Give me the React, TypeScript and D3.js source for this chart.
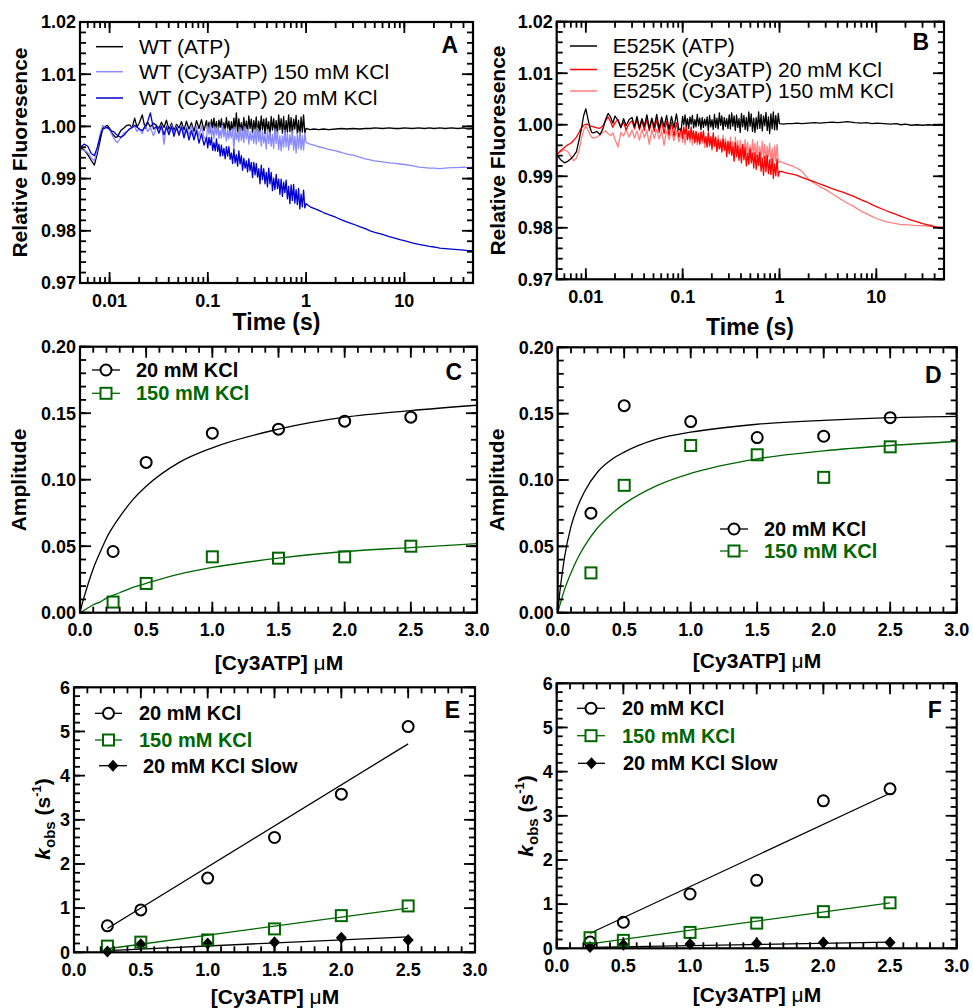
import React, { useEffect, useRef } from 'react';
import * as d3 from 'd3';

const FONT = "'Liberation Sans', Arial, Helvetica, sans-serif";
const GREEN = '#006600';

// time base of the stopped-flow traces (s)
const tEarly = [0.005, 0.0055, 0.006, 0.0065, 0.007, 0.0075, 0.008, 0.0085, 0.009, 0.0095,
  0.010, 0.0105, 0.011, 0.0115, 0.012, 0.013, 0.014, 0.015, 0.016, 0.017,
  0.018, 0.019, 0.020, 0.0215, 0.023, 0.0245, 0.026, 0.028];
const tNoisy = [0.030, 0.0318, 0.0337, 0.0358, 0.0379, 0.0402, 0.0427, 0.0452, 0.0480, 0.0509,
  0.0539, 0.0572, 0.0606, 0.0643, 0.0682, 0.0723, 0.0767, 0.0813, 0.0862, 0.0914,
  0.0969, 0.0998, 0.1027, 0.1058, 0.1089, 0.1121, 0.1154, 0.1189, 0.1224, 0.1260,
  0.1297, 0.1336, 0.1375, 0.1416, 0.1458, 0.1501, 0.1545, 0.1591, 0.1638, 0.1687,
  0.1737, 0.1788, 0.1841, 0.1896, 0.1952, 0.2009, 0.2069, 0.2130, 0.2193, 0.2258,
  0.2325, 0.2394, 0.2465, 0.2538, 0.2613, 0.2690, 0.2770, 0.2852, 0.2936, 0.3023,
  0.3112, 0.3205, 0.3299, 0.3397, 0.3498, 0.3601, 0.3708, 0.3817, 0.3930, 0.4047,
  0.4167, 0.4290, 0.4417, 0.4548, 0.4682, 0.4821, 0.4964, 0.5110, 0.5262, 0.5417,
  0.5578, 0.5743, 0.5913, 0.6088, 0.6268, 0.6454, 0.6645, 0.6841, 0.7044, 0.7252,
  0.7467, 0.7688, 0.7915, 0.8150, 0.8391, 0.8639, 0.8895, 0.9158, 0.9429, 0.9709,
  1.0];
const tSlow = [1.1, 1.2, 1.35, 1.5, 1.7, 2.0, 2.3, 2.6, 3.0, 3.5,
  4, 4.5, 5, 6, 7, 8, 9, 10, 12, 14,
  16, 18, 20, 23, 26, 30, 35, 40, 45, 50];

// panel A: WT (early | noisy | slow)
const wtAtp = [
  .9960, .9955, .9946, .9935, .9926, .9948, .9972, .9996, 1.0000, 1.0002,
  .9996, .9988, .9983, .9979, .9980, .9992, .9997, 1.0002, 1.0003, .9998,
  1.0016, .9999, 1.0006, 1.0022, .9996, 1.0008, .9999, 1.0006,
  1.0002, .9996, 1.0008, .9998, 1.0012, .9994, 1.0006, .9992, 1.0004, .9997,
  1.0009, .9993, 1.0010, .9995, 1.0007, .9990, 1.0011, .9996, 1.0013, .9992,
  1.0011, .9992, 1.0008, .9989, 1.0013, .9997, 1.0016, .9994, 1.0009, .9990,
  1.0012, .9998, 1.0015, .9991, 1.0007, .9993, 1.0017, .9995, 1.0010, .9988,
  1.0009, .9990, 1.0016, .9995, 1.0026, .9985, 1.0015, .9993, 1.0007, .9988,
  1.0017, .9992, 1.0010, .9989, 1.0020, .9996, 1.0014, .9987, 1.0011, .9994,
  1.0018, .9984, 1.0010, .9989, 1.0020, .9994, 1.0014, .9986, 1.0016, .9992,
  1.0009, .9982, 1.0019, .9993, 1.0015, .9988, 1.0011, .9985, 1.0022, .9994,
  1.0015, .9987, 1.0019, .9982, 1.0011, .9989, 1.0022, .9990, 1.0017, .9985,
  1.0014, .9995, 1.0021, .9986, 1.0012, .9980, 1.0018, .9989, 1.0022, .9987,
  .9996,
  .9994, .9995, .9994, .9995, .9994, .9995, .9996, .9995, .9996, .9995,
  .9996, .9996, .9997, .9996, .9997, .9996, .9996, .9997, .9996, .9997,
  .9996, .9997, .9996, .9997, .9996, .9997, .9996, .9997, .9995, .9996];
const wtCy3_150 = [
  .9956, .9954, .9950, .9940, .9934, .9955, .9985, 1.0002, .9998, .9996,
  .9993, .9985, .9978, .9972, .9969, .9978, .9987, .9990, .9996, .9999,
  1.0000, .9990, .9996, .9986, 1.0002, .9990, .9998, .9982,
  .9999, .9990, 1.0003, .9966, 1.0002, .9988, 1.0003, .9986, 1.0001, .9986,
  1.0003, .9983, 1.0001, .9983, 1.0002, .9980, 1.0000, .9981, 1.0001, .9978,
  .9977, 1.0001, .9985, 1.0004, .9981, .9996, .9977, .9999, .9984, 1.0001,
  .9977, .9993, .9978, 1.0002, .9980, .9995, .9972, .9995, .9976, .9992,
  .9978, .9995, .9955, .9998, .9975, .9989, .9970, .9998, .9973, .9991,
  .9969, 1.0000, .9976, .9994, .9966, .9990, .9973, .9987, .9968, .9994,
  .9966, .9997, .9971, .9991, .9962, .9992, .9968, .9984, .9957, .9994,
  .9967, .9989, .9962, .9985, .9958, .9995, .9967, .9990, .9956, .9982,
  .9953, .9982, .9960, .9993, .9961, .9987, .9955, .9984, .9965, .9991,
  .9955, .9981, .9949, .9987, .9958, .9990, .9955, .9983, .9955, .9987,
  .9969,
  .9966, .9964, .9961, .9959, .9956, .9953, .9950, .9947, .9945, .9941,
  .9938, .9936, .9934, .9932, .9930, .9929, .9928, .9927, .9925, .9922,
  .9921, .9920, .9920, .9919, .9920, .9921, .9921, .9922, .9921, .9922];
const wtCy3_20 = [
  .9959, .9966, .9962, .9948, .9944, .9960, .9980, .9994, .9997, .9998,
  .9995, .9991, .9990, .9986, .9983, .9979, .9983, .9990, .9995, .9998,
  1.0002, .9999, .9995, .9992, 1.0000, 1.0010, 1.0026, .9995,
  1.0000, .9987, 1.0001, .9984, .9999, .9984, 1.0000, .9981, .9998, .9983,
  .9999, .9978, .9995, .9974, .9992, .9974, .9992, .9968, .9986, .9964,
  .9979, .9959, .9979, .9964, .9979, .9954, .9969, .9953, .9976, .9952,
  .9966, .9943, .9964, .9944, .9958, .9938, .9961, .9943, .9961, .9937,
  .9949, .9929, .9956, .9930, .9946, .9924, .9953, .9928, .9944, .9916,
  .9939, .9920, .9934, .9913, .9938, .9915, .9931, .9902, .9931, .9907,
  .9929, .9903, .9919, .9890, .9926, .9898, .9919, .9890, .9912, .9884,
  .9920, .9890, .9912, .9877, .9901, .9879, .9908, .9881, .9899, .9870,
  .9899, .9866, .9893, .9873, .9897, .9861, .9885, .9852, .9888, .9858,
  .9889, .9853, .9879, .9850, .9881, .9842, .9870, .9846, .9878, .9844,
  .9852,
  .9846, .9843, .9839, .9835, .9831, .9826, .9821, .9817, .9813, .9808,
  .9804, .9800, .9797, .9793, .9789, .9786, .9783, .9781, .9777, .9774,
  .9772, .9770, .9769, .9767, .9766, .9765, .9764, .9763, .9762, .9762];

// panel B: E525K (early | noisy | slow)
const e525kAtp = [
  .9942, .9932, .9926, .9929, .9934, .9940, .9948, .9970, .9992, 1.0018,
  1.0031, 1.0012, .9995, .9985, .9984, .9987, .9981, .9992, 1.0010, 1.0022,
  1.0015, 1.0003, 1.0017, 1.0008, .9994, 1.0012, .9998, 1.0010,
  1.0014, .9996, 1.0016, .9994, 1.0012, .9997, 1.0019, .9993, 1.0013, .9995,
  1.0020, .9992, 1.0015, .9996, 1.0018, .9991, 1.0016, .9994, 1.0021, .9990,
  .9992, 1.0016, 1.0000, 1.0019, .9997, 1.0012, .9993, 1.0015, 1.0001, 1.0018,
  .9994, 1.0010, .9996, 1.0020, .9998, 1.0013, .9991, 1.0014, .9995, 1.0011,
  .9998, 1.0015, .9988, 1.0018, .9996, 1.0010, .9991, 1.0020, .9995, 1.0013,
  .9992, 1.0023, .9999, 1.0017, .9990, 1.0014, .9997, 1.0012, .9993, 1.0019,
  .9992, 1.0023, .9997, 1.0017, .9989, 1.0019, .9995, 1.0012, .9985, 1.0022,
  .9996, 1.0018, .9991, 1.0014, .9988, 1.0025, .9997, 1.0021, .9987, 1.0013,
  .9985, 1.0014, .9992, 1.0025, .9993, 1.0020, .9988, 1.0017, .9998, 1.0024,
  .9989, 1.0015, .9983, 1.0021, .9992, 1.0025, .9990, 1.0018, .9990, 1.0022,
  1.0002,
  1.0001, 1.0002, 1.0002, 1.0003, 1.0002, 1.0003, 1.0004, 1.0003, 1.0004, 1.0005,
  1.0004, 1.0005, 1.0006, 1.0004, 1.0003, 1.0004, 1.0002, 1.0003, 1.0002, 1.0001,
  1.0002, 1.0000, 1.0001, .9999, 1.0000, .9999, 1.0000, .9999, 1.0000, 1.0000];
const e525kCy3_20 = [
  .9942, .9950, .9956, .9961, .9964, .9970, .9976, .9985, .9994, .9999,
  1.0001, 1.0000, .9998, .9997, .9996, .9994, .9993, .9998, 1.0008, 1.0015,
  1.0006, .9995, 1.0004, 1.0010, .9996, 1.0005, .9990, 1.0002,
  1.0008, .9992, 1.0010, .9990, 1.0008, .9989, 1.0011, .9988, 1.0009, .9987,
  1.0010, .9985, 1.0008, .9983, 1.0007, .9980, 1.0005, .9978, 1.0004, .9976,
  .9994, .9974, .9996, .9981, .9997, .9972, .9988, .9973, .9996, .9973,
  .9988, .9965, .9987, .9967, .9983, .9963, .9986, .9969, .9988, .9965,
  .9977, .9957, .9985, .9959, .9976, .9954, .9984, .9959, .9976, .9948,
  .9971, .9953, .9967, .9947, .9972, .9950, .9966, .9938, .9967, .9944,
  .9966, .9941, .9957, .9929, .9965, .9938, .9959, .9931, .9953, .9926,
  .9962, .9932, .9955, .9920, .9945, .9923, .9953, .9926, .9945, .9916,
  .9946, .9913, .9941, .9921, .9946, .9910, .9935, .9902, .9939, .9909,
  .9941, .9905, .9932, .9903, .9934, .9896, .9924, .9901, .9933, .9900,
  .9910,
  .9908, .9906, .9904, .9902, .9898, .9893, .9889, .9885, .9881, .9876,
  .9872, .9869, .9866, .9860, .9854, .9850, .9845, .9841, .9835, .9830,
  .9826, .9822, .9819, .9815, .9812, .9808, .9805, .9802, .9800, .9798];
const e525kCy3_150 = [
  .9942, .9948, .9951, .9948, .9938, .9930, .9935, .9950, .9972, .9990,
  .9998, .9990, .9982, .9976, .9974, .9976, .9980, .9985, .9988, .9983,
  .9979, .9984, .9972, .9957, .9985, .9978, .9990, .9976,
  .9990, .9974, .9988, .9970, .9991, .9975, .9989, .9962, .9990, .9973,
  .9991, .9972, .9988, .9960, .9989, .9971, .9987, .9969, .9988, .9967,
  .9985, .9966, .9982, .9962, .9986, .9970, .9988, .9966, .9981, .9961,
  .9983, .9969, .9985, .9961, .9977, .9962, .9986, .9964, .9978, .9956,
  .9976, .9957, .9982, .9961, .9977, .9950, .9979, .9957, .9970, .9951,
  .9979, .9954, .9971, .9950, .9980, .9956, .9973, .9946, .9969, .9952,
  .9976, .9942, .9967, .9946, .9976, .9950, .9969, .9941, .9970, .9946,
  .9962, .9935, .9971, .9945, .9966, .9939, .9961, .9935, .9971, .9943,
  .9964, .9935, .9967, .9929, .9958, .9935, .9968, .9935, .9962, .9929,
  .9958, .9938, .9964, .9928, .9954, .9921, .9959, .9929, .9962, .9926,
  .9929,
  .9926, .9923, .9920, .9916, .9910, .9894, .9886, .9880, .9874, .9866,
  .9859, .9853, .9848, .9840, .9832, .9827, .9822, .9818, .9813, .9810,
  .9808, .9806, .9806, .9805, .9804, .9804, .9803, .9802, .9801, .9801];

// panels C-F: [Cy3ATP] series
const conc = [0.25, 0.5, 1.0, 1.5, 2.0, 2.5];
const ampC20 = [0.046, 0.113, 0.135, 0.138, 0.144, 0.147];
const ampC150 = [0.008, 0.022, 0.042, 0.041, 0.042, 0.050];
const ampD20 = [0.075, 0.156, 0.144, 0.132, 0.133, 0.147];
const ampD150 = [0.030, 0.096, 0.126, 0.119, 0.102, 0.125];

const fitConc = [0, 0.02, 0.05, 0.1, 0.15, 0.2, 0.3, 0.4, 0.5, 0.75, 1.0, 1.5, 2.0, 2.5, 3.0];
const fitC20 = [0, 0.008, 0.018, 0.033, 0.045, 0.056, 0.072, 0.085, 0.095, 0.113, 0.124, 0.138, 0.147, 0.152, 0.156];
const fitC150 = [0, 0.001, 0.003, 0.006, 0.008, 0.011, 0.015, 0.019, 0.022, 0.029, 0.034, 0.041, 0.046, 0.049, 0.052];
const fitD20 = [0, 0.019, 0.041, 0.065, 0.080, 0.091, 0.106, 0.115, 0.121, 0.131, 0.136, 0.142, 0.145, 0.147, 0.148];
const fitD150 = [0, 0.007, 0.017, 0.030, 0.041, 0.050, 0.064, 0.074, 0.082, 0.096, 0.105, 0.116, 0.122, 0.126, 0.129];

const kE20 = [0.60, 0.96, 1.68, 2.60, 3.58, 5.11];
const kE150 = [0.14, 0.23, 0.28, 0.53, 0.83, 1.05];
const kESlow = [0.02, 0.18, 0.20, 0.23, 0.33, 0.28];
const kESlowErr = [0.02, 0.08, 0.12, 0.15, 0.33, 0.28];
const kF20 = [0.14, 0.59, 1.23, 1.54, 3.34, 3.61];
const kF150 = [0.24, 0.18, 0.36, 0.57, 0.83, 1.03];
const kFSlow = [0.03, 0.08, 0.10, 0.11, 0.13, 0.13];
const kFSlowErr = [0.02, 0.06, 0.08, 0.08, 0.10, 0.10];

const lineConc = [0.25, 2.5];
const lineE20 = [0.54, 4.72];
const lineE150 = [0.08, 1.00];
const lineESlow = [0.04, 0.35];
const lineF20 = [0.34, 3.51];
const lineF150 = [0.10, 1.03];
const lineFSlow = [0.02, 0.14];

const tAll = [...tEarly, ...tNoisy, ...tSlow];
const pairs = (xs: number[], ys: number[]) =>
  xs.map((x, i) => [x, ys[i]] as [number, number]).filter(p => p[1] != null);

function box(svg: any, x: any, y: any, o: any) {
  const [xl, xr] = x.range();
  const [yb, yt] = y.range();
  const g = svg.append('g');
  const tick = (x1: number, y1: number, x2: number, y2: number) =>
    g.append('line').attr('x1', x1).attr('y1', y1).attr('x2', x2).attr('y2', y2)
      .attr('stroke', '#000').attr('stroke-width', 1.8);
  o.xMinor.forEach((v: number) => { const p = x(v); tick(p, yb, p, yb - 6); tick(p, yt, p, yt + 6); });
  o.xMajor.forEach((v: number) => { const p = x(v); tick(p, yb, p, yb - 11); tick(p, yt, p, yt + 11); });
  o.yMinor.forEach((v: number) => { const p = y(v); tick(xl, p, xl + 6, p); tick(xr, p, xr - 6, p); });
  o.yMajor.forEach((v: number) => { const p = y(v); tick(xl, p, xl + 11, p); tick(xr, p, xr - 11, p); });
  g.append('rect').attr('x', xl).attr('y', yt).attr('width', xr - xl).attr('height', yb - yt)
    .attr('fill', 'none').attr('stroke', '#000').attr('stroke-width', 2.2);

  g.selectAll('.xl').data(o.xMajor).join('text')
    .attr('x', (d: number) => x(d)).attr('y', yb + o.xDy)
    .attr('text-anchor', 'middle').attr('font-size', 18).attr('font-weight', 'bold')
    .attr('font-family', FONT).text((d: number) => o.xFmt(d));
  g.selectAll('.yl').data(o.yMajor).join('text')
    .attr('x', xl - 4).attr('y', (d: number) => y(d)).attr('dy', '0.35em')
    .attr('text-anchor', 'end').attr('font-size', 18).attr('font-weight', 'bold')
    .attr('font-family', FONT).text((d: number) => o.yFmt(d));

  g.append('text').attr('x', xr - 15).attr('y', o.letterY).attr('text-anchor', 'end')
    .attr('font-size', 23).attr('font-weight', 'bold').attr('font-family', FONT).text(o.letter);
}

function vLabel(svg: any, x: number, y: number, text: string) {
  svg.append('text').attr('transform', `translate(${x},${y}) rotate(-90)`)
    .attr('text-anchor', 'middle').attr('font-size', 21).attr('font-weight', 'bold')
    .attr('font-family', FONT).text(text);
}

function concLabel(svg: any, x: number, y: number) {
  const t = svg.append('text').attr('x', x).attr('y', y).attr('text-anchor', 'middle')
    .attr('font-size', 21).attr('font-weight', 'bold').attr('font-family', FONT);
  t.append('tspan').text('[Cy3ATP] ');
  t.append('tspan').attr('font-weight', 'normal').text('\u03bc');
  t.append('tspan').text('M');
}

function kobsLabel(svg: any, x: number, y: number) {
  const t = svg.append('text').attr('transform', `translate(${x},${y}) rotate(-90)`)
    .attr('text-anchor', 'middle').attr('font-size', 21).attr('font-weight', 'bold').attr('font-family', FONT);
  t.append('tspan').attr('font-style', 'italic').text('k');
  t.append('tspan').attr('font-size', 15).attr('dy', 5).text('obs');
  t.append('tspan').attr('dy', -5).text(' (s');
  t.append('tspan').attr('font-size', 13).attr('dy', -9).text('-1');
  t.append('tspan').attr('dy', 9).text(')');
}

function marker(g: any, kind: string, cx: number, cy: number, color: string, fill: string) {
  if (kind === 'circle') {
    g.append('circle').attr('cx', cx).attr('cy', cy).attr('r', 5.5)
      .attr('fill', fill).attr('stroke', color).attr('stroke-width', 2);
  } else if (kind === 'square') {
    g.append('rect').attr('x', cx - 5.5).attr('y', cy - 5.5).attr('width', 11).attr('height', 11)
      .attr('fill', fill).attr('stroke', color).attr('stroke-width', 2);
  } else {
    g.append('path').attr('d', `M${cx},${cy - 6}L${cx + 5.5},${cy}L${cx},${cy + 6}L${cx - 5.5},${cy}Z`)
      .attr('fill', color);
  }
}

function legendRow(svg: any, x1: number, x2: number, y: number, tx: number, kind: string | null,
  color: string, label: string, textColor: string, bold: boolean) {
  svg.append('line').attr('x1', x1).attr('x2', x2).attr('y1', y).attr('y2', y)
    .attr('stroke', color).attr('stroke-width', kind ? 1.3 : 1.5);
  if (kind) marker(svg, kind, (x1 + x2) / 2, y, color, '#fff');
  svg.append('text').attr('x', tx).attr('y', y + 7).attr('font-size', bold ? 20 : 21)
    .attr('font-weight', bold ? 'bold' : 'normal').attr('font-family', FONT)
    .attr('fill', textColor).text(label);
}

function tracePanel(svg: any, xr: number[], yr: number[], series: { v: number[]; c: string }[], letter: string, letterY: number) {
  const x = d3.scaleLog().domain([0.005, 50]).range(xr);
  const y = d3.scaleLinear().domain([0.97, 1.02]).range(yr);
  const all = x.ticks();
  const major = all.filter(v => Math.abs(Math.log10(v) - Math.round(Math.log10(v))) < 1e-6);
  const line = d3.line<[number, number]>().x(d => x(d[0])).y(d => y(d[1]));
  series.forEach(s => {
    svg.append('path').attr('d', line(pairs(tAll, s.v))).attr('fill', 'none')
      .attr('stroke', s.c).attr('stroke-width', 1.3).attr('stroke-linejoin', 'round');
  });
  box(svg, x, y, {
    xMajor: major, xMinor: all, yMajor: y.ticks(5), yMinor: y.ticks(25),
    xFmt: d3.format('~g'), yFmt: d3.format('.2f'), xDy: 24, letter, letterY,
  });
}

export default function App() {
  const ref = useRef<SVGSVGElement>(null);

  useEffect(() => {
    const svg = d3.select(ref.current);
    svg.selectAll('*').remove();
    svg.append('rect').attr('width', 973).attr('height', 1008).attr('fill', '#fff');

    // ---- A ----
    tracePanel(svg, [80, 473], [283, 22], [
      { v: wtAtp, c: '#000000' },
      { v: wtCy3_150, c: '#8a8aff' },
      { v: wtCy3_20, c: '#0000cc' },
    ], 'A', 53);
    legendRow(svg, 96, 123, 46.7, 139, null, '#000', 'WT (ATP)', '#000', false);
    legendRow(svg, 96, 123, 71.7, 139, null, '#8a8aff', 'WT (Cy3ATP) 150 mM KCl', '#000', false);
    legendRow(svg, 96, 123, 98, 139, null, '#0000cc', 'WT (Cy3ATP) 20 mM KCl', '#000', false);
    vLabel(svg, 27, 152.5, 'Relative Fluoresence');
    svg.append('text').attr('x', 276.5).attr('y', 330).attr('text-anchor', 'middle')
      .attr('font-size', 23).attr('font-weight', 'bold').attr('font-family', FONT).text('Time (s)');

    // ---- B ----
    tracePanel(svg, [556.7, 944], [279.3, 21.7], [
      { v: e525kCy3_150, c: '#ff8080' },
      { v: e525kCy3_20, c: '#ff0000' },
      { v: e525kAtp, c: '#000000' },
    ], 'B', 50);
    legendRow(svg, 570, 597, 46, 612.7, null, '#000', 'E525K (ATP)', '#000', false);
    legendRow(svg, 570, 597, 69.5, 612.7, null, '#ff0000', 'E525K (Cy3ATP) 20 mM KCl', '#000', false);
    legendRow(svg, 570, 597, 91, 612.7, null, '#ff8080', 'E525K (Cy3ATP) 150 mM KCl', '#000', false);
    vLabel(svg, 505, 150.5, 'Relative Fluoresence');
    svg.append('text').attr('x', 750).attr('y', 335).attr('text-anchor', 'middle')
      .attr('font-size', 23).attr('font-weight', 'bold').attr('font-family', FONT).text('Time (s)');

    const scales = (xr: number[], yr: number[], yMax: number) => ({
      x: d3.scaleLinear().domain([0, 3]).range(xr),
      y: d3.scaleLinear().domain([0, yMax]).range(yr),
    });
    const curve = (x: any, y: any, xs: number[], ys: number[], color: string, smooth: boolean) => {
      const l = d3.line<[number, number]>().x(d => x(d[0])).y(d => y(d[1]));
      if (smooth) l.curve(d3.curveMonotoneX);
      svg.append('path').attr('d', l(pairs(xs, ys))).attr('fill', 'none')
        .attr('stroke', color).attr('stroke-width', 1.3);
    };
    const points = (x: any, y: any, ys: number[], kind: string, color: string) => {
      const g = svg.append('g');
      conc.forEach((c, i) => marker(g, kind, x(c), y(ys[i]), color, 'none'));
    };
    const errBars = (x: any, y: any, ys: number[], errs: number[]) => {
      conc.forEach((c, i) => {
        svg.append('line').attr('x1', x(c)).attr('x2', x(c))
          .attr('y1', y(ys[i])).attr('y2', y(Math.max(0, ys[i] - errs[i])))
          .attr('stroke', '#000').attr('stroke-width', 1.3);
      });
    };
    const linAxes = (x: any, y: any, yMajor: number, yMinor: number, yFmt: string, letter: string, letterY: number, xDy: number) => ({
      xMajor: x.ticks(6), xMinor: x.ticks(30), yMajor: y.ticks(yMajor), yMinor: y.ticks(yMinor),
      xFmt: d3.format('.1f'), yFmt: d3.format(yFmt), xDy, letter, letterY,
    });

    // ---- C ----
    {
      const { x, y } = scales([80, 477], [612.7, 346.7], 0.2);
      curve(x, y, fitConc, fitC20, '#000', true);
      curve(x, y, fitConc, fitC150, GREEN, true);
      points(x, y, ampC20, 'circle', '#000');
      points(x, y, ampC150, 'square', GREEN);
      box(svg, x, y, linAxes(x, y, 4, 20, '.2f', 'C', 380, 23));
      legendRow(svg, 92, 120, 370, 136, 'circle', '#000', '20 mM KCl', '#000', true);
      legendRow(svg, 92, 120, 393.3, 136, 'square', GREEN, '150 mM KCl', GREEN, true);
      vLabel(svg, 26, 480, 'Amplitude');
      concLabel(svg, 279, 670);
    }

    // ---- D ----
    {
      const { x, y } = scales([557.7, 956.7], [612.7, 347.3], 0.2);
      curve(x, y, fitConc, fitD20, '#000', true);
      curve(x, y, fitConc, fitD150, GREEN, true);
      points(x, y, ampD20, 'circle', '#000');
      points(x, y, ampD150, 'square', GREEN);
      box(svg, x, y, linAxes(x, y, 4, 20, '.2f', 'D', 383, 23));
      legendRow(svg, 720, 748, 529, 764, 'circle', '#000', '20 mM KCl', '#000', true);
      legendRow(svg, 720, 748, 551, 764, 'square', GREEN, '150 mM KCl', GREEN, true);
      vLabel(svg, 504, 480, 'Amplitude');
      concLabel(svg, 757, 668);
    }

    // ---- E ----
    {
      const { x, y } = scales([74, 475], [952.3, 687.3], 6);
      errBars(x, y, kESlow, kESlowErr);
      curve(x, y, lineConc, lineE20, '#000', false);
      curve(x, y, lineConc, lineE150, GREEN, false);
      curve(x, y, lineConc, lineESlow, '#000', false);
      points(x, y, kESlow, 'diamond', '#000');
      points(x, y, kE20, 'circle', '#000');
      points(x, y, kE150, 'square', GREEN);
      box(svg, x, y, linAxes(x, y, 6, 30, 'd', 'E', 718, 24));
      legendRow(svg, 95, 122, 713.3, 139, 'circle', '#000', '20 mM KCl', '#000', true);
      legendRow(svg, 95, 122, 740, 139, 'square', GREEN, '150 mM KCl', GREEN, true);
      legendRow(svg, 99, 127, 765.7, 143, 'diamond', '#000', '20 mM KCl Slow', '#000', true);
      kobsLabel(svg, 50, 819);
      concLabel(svg, 275, 1004);
    }

    // ---- F ----
    {
      const { x, y } = scales([556.7, 956.7], [948.3, 683.3], 6);
      errBars(x, y, kFSlow, kFSlowErr);
      curve(x, y, lineConc, lineF20, '#000', false);
      curve(x, y, lineConc, lineF150, GREEN, false);
      curve(x, y, lineConc, lineFSlow, '#000', false);
      points(x, y, kFSlow, 'diamond', '#000');
      points(x, y, kF20, 'circle', '#000');
      points(x, y, kF150, 'square', GREEN);
      box(svg, x, y, linAxes(x, y, 6, 30, 'd', 'F', 718, 24));
      legendRow(svg, 577, 605, 708.3, 622, 'circle', '#000', '20 mM KCl', '#000', true);
      legendRow(svg, 577, 605, 735.7, 622, 'square', GREEN, '150 mM KCl', GREEN, true);
      legendRow(svg, 578, 605, 763.3, 623, 'diamond', '#000', '20 mM KCl Slow', '#000', true);
      kobsLabel(svg, 533, 816);
      concLabel(svg, 757, 1002);
    }
  }, []);

  return (
    <svg
      ref={ref}
      width={973}
      height={1008}
      style={{ position: 'absolute', left: 0, top: 0, display: 'block' }}
    />
  );
}
